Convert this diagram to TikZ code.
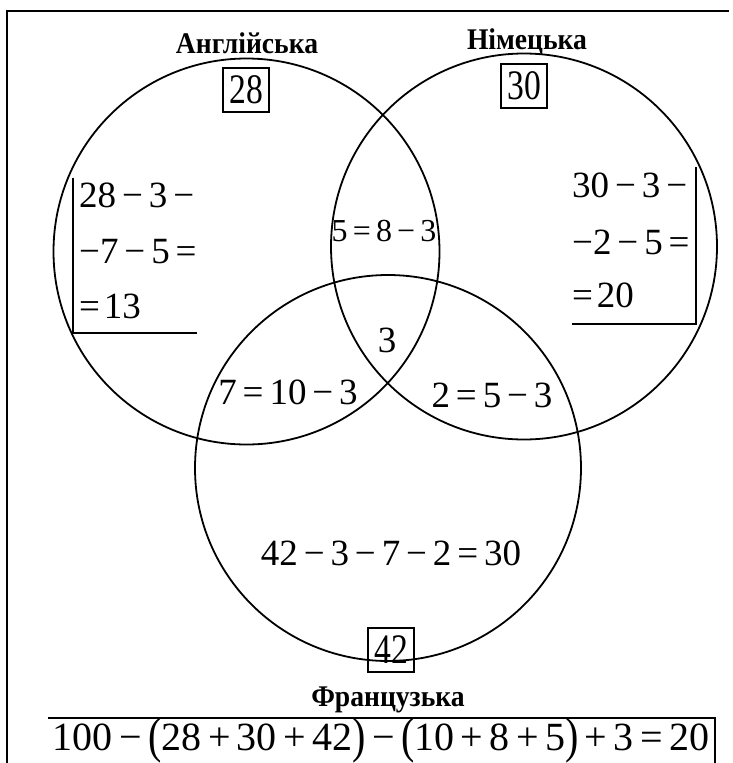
\documentclass[tikz,border=0pt]{standalone}
\usepackage{fontspec}
\setmainfont{Liberation Serif}
\newfontfamily\lblfont[FakeStretch=0.92]{Liberation Serif}
\newfontfamily\numfont[FakeStretch=0.8]{Liberation Serif}
\newcommand\opm[1]{\hspace{0.16em}#1\hspace{0.16em}}
\newcommand\bigpar[1]{\raisebox{-0.07em}{\scalebox{1}[1.25]{#1}}}
\begin{document}
\begin{tikzpicture}[x=1pt,y=-1pt,
  ring/.style={circle,draw,line width=1.8pt,minimum size=386pt,inner sep=0pt},
  eq/.style={font=\fontsize{37}{40}\selectfont,inner sep=0pt},
  small/.style={font=\fontsize{32}{36}\selectfont,inner sep=0pt},
  num/.style={draw,line width=1.2pt,font=\fontsize{42}{44}\selectfont\numfont,inner sep=2pt,minimum width=46pt,minimum height=44pt},
  lang/.style={font=\fontsize{30}{32}\selectfont\lblfont\bfseries,inner sep=0pt},
  rulel/.style={line width=1.4pt},
  framel/.style={line width=2pt}]
\useasboundingbox (0,0) rectangle (733,763);
% circles
\node[ring] (E) at (246.5,251.5) {};
\node[ring] (G) at (524,246.5) {};
\node[ring] (F) at (388,468) {};
% frame
\coordinate (fbl) at (7,763);
\coordinate (ftl) at (7,11);
\coordinate (ftr) at (729,11);
\draw[framel] (fbl) -- (ftl) -- (ftr);
% language labels
\node[lang] (le) at (247,43) {Англійська};
\node[lang] (lg) at (527,42) {Німецька};
\node[lang] (lf) at (388,700) {Французька};
% boxed numbers
\node[num] (n28) at (246,90) {28};
\node[num] (n30) at (524,86) {30};
\node[num] (n42) at (391,650) {42};
% left equation
\node[eq,anchor=base west] (l1) at (79,207) {28\opm{−}3\opm{−}};
\node[eq,anchor=base west] (l2) at (79,263) {−7\opm{−}5\opm{=}};
\node[eq,anchor=base west] (l3) at (79,318) {=\hspace{0.1em}13};
\coordinate (lbt) at (73,178);
\coordinate (lbb) at (73,333);
\coordinate (lbr) at (197,333);
\draw[rulel] (lbt) -- (lbb) -- (lbr);
% right equation
\node[eq,anchor=base west] (r1) at (572,197) {30\opm{−}3\opm{−}};
\node[eq,anchor=base west] (r2) at (572,254) {−2\opm{−}5\opm{=}};
\node[eq,anchor=base west] (r3) at (572,307) {=\hspace{0.1em}20};
\coordinate (rbt) at (696,167);
\coordinate (rbb) at (696,324);
\coordinate (rbl) at (572,324);
\draw[rulel] (rbt) -- (rbb) -- (rbl);
% region values
\node[small] (eg) at (384,231) {5\opm{=}8\opm{−}3};
\node[eq] (egf) at (387,340) {3};
\node[eq] (ef) at (288,392) {7\opm{=}10\opm{−}3};
\node[eq] (gf) at (492,395) {2\opm{=}5\opm{−}3};
\node[eq] (fo) at (391,553) {42\opm{−}3\opm{−}7\opm{−}2\opm{=}30};
% bottom formula
\node[font=\fontsize{40}{44}\selectfont,inner sep=0pt,anchor=base] (tot) at (381,750)
  {100\opm{−}\bigpar{(}28\opm{+}30\opm{+}42\bigpar{)}\opm{−}\bigpar{(}10\opm{+}8\opm{+}5\bigpar{)}\opm{+}3\opm{=}20};
\coordinate (btl) at (48,718);
\coordinate (btr) at (715,718);
\coordinate (bbr) at (715,763);
\draw[rulel] (btl) -- (btr) -- (bbr);
\end{tikzpicture}
\end{document}
